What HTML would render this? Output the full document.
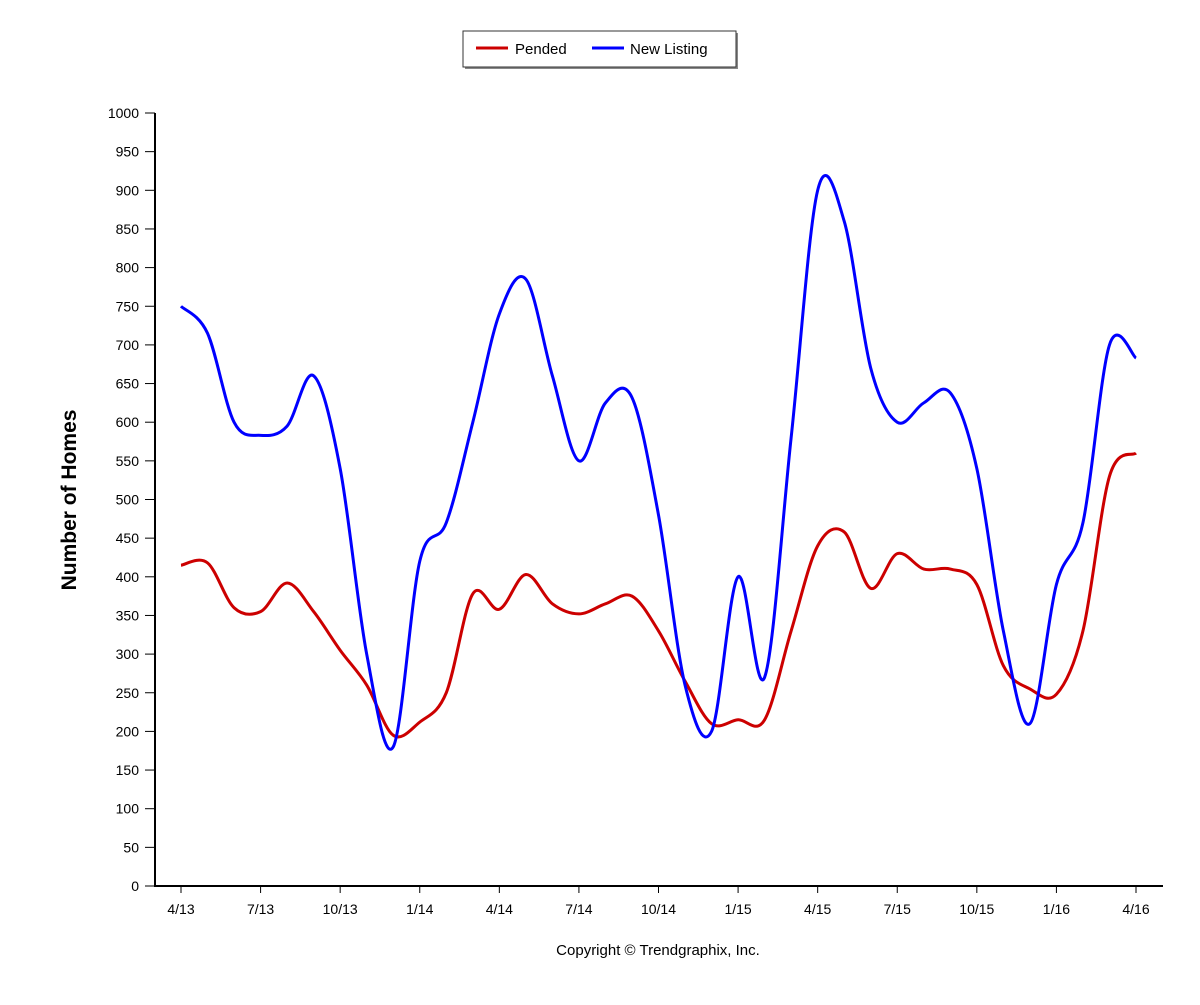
<!DOCTYPE html>
<html><head><meta charset="utf-8"><style>
body{margin:0;background:#fff;font-family:"Liberation Sans",sans-serif}
</style></head><body>
<svg width="1200" height="1000" xmlns="http://www.w3.org/2000/svg">
<g>
<rect x="465" y="33" width="273" height="36" fill="#888"/>
<rect x="463" y="31" width="273" height="36" fill="#fff" stroke="#333"/>
<line x1="476" y1="48" x2="508" y2="48" stroke="#c00" stroke-width="3"/>
<text x="515" y="54" font-size="15">Pended</text>
<line x1="592" y1="48" x2="624" y2="48" stroke="#00f" stroke-width="3"/>
<text x="630" y="54" font-size="15">New Listing</text>
</g>
<text transform="translate(76,500) rotate(-90)" text-anchor="middle" font-size="21" font-weight="bold">Number of Homes</text>
<text x="658" y="955" text-anchor="middle" font-size="15">Copyright © Trendgraphix, Inc.</text>
<g id="axes"></g>
<g id="series"></g>
</svg>
<script>
const xLabels=["4/13","7/13","10/13","1/14","4/14","7/14","10/14","1/15","4/15","7/15","10/15","1/16","4/16"];
const yTicks=[0,50,100,150,200,250,300,350,400,450,500,550,600,650,700,750,800,850,900,950,1000];
const newListing=[750,715,600,583,595,660,540,300,180,420,470,600,740,785,660,550,625,632,480,260,200,400,270,580,900,860,670,600,625,638,540,330,210,390,470,700,683];
const pended=[415,418,360,355,392,355,305,260,195,212,250,378,358,403,365,352,365,375,330,265,210,215,215,330,440,458,385,430,410,410,390,285,255,248,330,530,560];
const NS="http://www.w3.org/2000/svg";
const x=i=>181+i*(955/36), y=v=>886-v*0.773;
const ax=document.getElementById('axes'), se=document.getElementById('series');
function mk(tag,at,p){const e=document.createElementNS(NS,tag);for(const k in at)e.setAttribute(k,at[k]);p.appendChild(e);return e;}
let e=mk('line',{x1:155,y1:113,x2:155,y2:886,stroke:'#000','stroke-width':2},ax);


e=mk('line',{x1:154,y1:886,x2:1163,y2:886,stroke:'#000','stroke-width':2},ax);


yTicks.forEach(v=>{mk('line',{x1:145,y1:y(v),x2:155,y2:y(v),stroke:'#000'},ax);
const t=mk('text',{x:139,y:y(v)+5,'text-anchor':'end','font-size':14},ax);t.textContent=v;

});
xLabels.forEach((l,i)=>{const xx=x(i*3);mk('line',{x1:xx,y1:886,x2:xx,y2:893,stroke:'#000'},ax);
const t=mk('text',{x:xx,y:914,'text-anchor':'middle','font-size':14},ax);t.textContent=l;

});
function path(d){const p=d.map((v,i)=>[x(i),y(v)]);let s=`M${p[0][0]},${p[0][1]}`;
for(let i=0;i<p.length-1;i++){const p0=p[Math.max(0,i-1)],p1=p[i],p2=p[i+1],p3=p[Math.min(p.length-1,i+2)];
s+=` C${p1[0]+(p2[0]-p0[0])/6},${p1[1]+(p2[1]-p0[1])/6} ${p2[0]-(p3[0]-p1[0])/6},${p2[1]-(p3[1]-p1[1])/6} ${p2[0]},${p2[1]}`;}return s;}
e=mk('path',{d:path(pended),fill:'none',stroke:'#c00','stroke-width':3},se);


e=mk('path',{d:path(newListing),fill:'none',stroke:'#00f','stroke-width':3},se);


</script>
</body></html>
